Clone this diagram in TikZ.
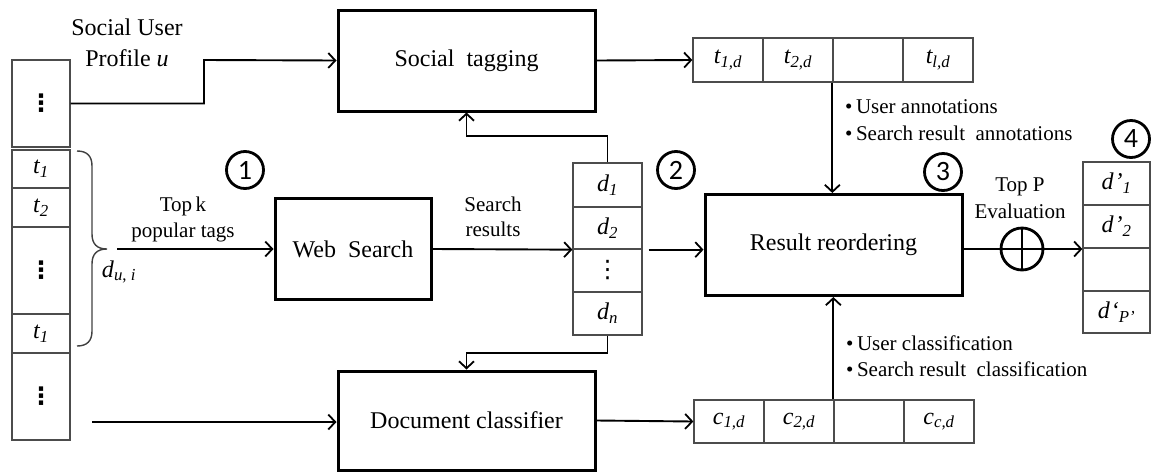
\documentclass[tikz,border=0pt]{standalone}
\usepackage{fontspec}
\setmainfont{Liberation Serif}
\newfontfamily\numfont{Carlito}
\newfontfamily\dvfont{DejaVu Sans}
\usetikzlibrary{arrows.meta,calc}
\newcommand{\vdt}{{\dvfont\fontsize{24}{28}\selectfont\bfseries ⋮}}
\newcommand{\vdtthin}{{\dvfont\fontsize{24}{28}\selectfont ⋮}}
\begin{document}
\begin{tikzpicture}[x=1pt,y=-1pt,
  box/.style={draw, line width=3pt, inner sep=0pt, font=\fontsize{24}{28}\selectfont},
  cell/.style={draw=black!70, line width=1.3pt, inner sep=0pt, font=\fontsize{24}{28}\selectfont\itshape},
  arr/.style={-{Straight Barb[length=7pt,width=15pt,line width=1.8pt]}, line width=1.9pt},
  ln/.style={line width=1.9pt},
  num/.style={circle, draw, line width=2.8pt, minimum size=37pt, inner sep=0pt, font=\numfont\fontsize{28}{30}\selectfont},
  lbl/.style={font=\fontsize{21}{24}\selectfont, align=center, inner sep=0pt},
  big/.style={font=\fontsize{24}{28}\selectfont, align=center, inner sep=0pt}
]
\useasboundingbox (0,0) rectangle (1151,472);

% profile column
\node[cell, minimum width=58pt, minimum height=87pt] (p0) at (41,103.5) {\vdt};
\node[cell, minimum width=58pt, minimum height=38pt] (p1) at (41,169) {\textit{t}\textsubscript{\textit{1}}};
\node[cell, minimum width=58pt, minimum height=39pt] (p2) at (41,207.5) {\textit{t}\textsubscript{\textit{2}}};
\node[cell, minimum width=58pt, minimum height=87pt] (p3) at (41,270.5) {\vdt};
\node[cell, minimum width=58pt, minimum height=39pt] (p4) at (41,333.5) {\textit{t}\textsubscript{\textit{1}}};
\node[cell, minimum width=58pt, minimum height=87pt] (p5) at (41,396.5) {\vdt};

\node[big] (sup1) at (127,27) {Social User};
\node[big] (sup2) at (127,58) {Profile \textit{u}};

% brace
\draw[line width=1.4pt, black!75] (77,151) .. controls (87,151) and (92,156) .. (92,166) -- (92,234)
  .. controls (92,244) and (97,249) .. (107,249) .. controls (97,249) and (92,254) .. (92,264)
  -- (92,331) .. controls (92,341) and (87,346) .. (77,346);
\node[big] (dui) at (119,272) {\textit{d}\textsubscript{\textit{u}, \textit{i}}};
\coordinate (btip) at (117,249);

% main boxes
\node[box, minimum width=257pt, minimum height=101pt] (st) at (466.5,60.5) {Social\ \ tagging};
\node[box, minimum width=156pt, minimum height=101pt] (ws) at (353,249) {Web\ \ Search};
\node[box, minimum width=257pt, minimum height=101pt] (rr) at (833.5,245) {Result reordering};
\node[box, minimum width=257pt, minimum height=99pt] (dc) at (466.5,420.5) {Document classifier};

% circled numbers
\node[num] (n1) at (245,170) {1};
\node[num] (n2) at (676,170) {2};
\node[num] (n3) at (943,172) {3};
\node[num] (n4) at (1131,139) {4};

% t-list
\node[cell, minimum width=70pt, minimum height=44pt] (tl1) at (728,60) {t\textsubscript{1,d}};
\node[cell, minimum width=70pt, minimum height=44pt] (tl2) at (798,60) {t\textsubscript{2,d}};
\node[cell, minimum width=70pt, minimum height=44pt] (tl3) at (868,60) {};
\node[cell, minimum width=70pt, minimum height=44pt] (tl4) at (938,60) {t\textsubscript{l,d}};

% c-list
\node[cell, minimum width=70pt, minimum height=43pt] (cl1) at (729,421.5) {c\textsubscript{1,d}};
\node[cell, minimum width=70pt, minimum height=43pt] (cl2) at (799,421.5) {c\textsubscript{2,d}};
\node[cell, minimum width=70pt, minimum height=43pt] (cl3) at (869,421.5) {};
\node[cell, minimum width=70pt, minimum height=43pt] (cl4) at (939,421.5) {c\textsubscript{c,d}};

% d-list
\node[cell, minimum width=69pt, minimum height=44pt] (dl1) at (607.5,185) {d\textsubscript{1}};
\node[cell, minimum width=69pt, minimum height=42pt] (dl2) at (607.5,228) {d\textsubscript{2}};
\node[cell, minimum width=69pt, minimum height=43pt] (dl3) at (607.5,270.5) {\vdtthin};
\node[cell, minimum width=69pt, minimum height=43pt] (dl4) at (607.5,313.5) {d\textsubscript{n}};

% d'-list
\node[cell, minimum width=67pt, minimum height=43pt] (dp1) at (1116.5,183.5) {d\kern1pt\char"2019\textsubscript{1}};
\node[cell, minimum width=67pt, minimum height=43pt] (dp2) at (1116.5,226.5) {d\kern1pt\char"2019\textsubscript{2}};
\node[cell, minimum width=67pt, minimum height=43pt] (dp3) at (1116.5,269.5) {};
\node[cell, minimum width=67pt, minimum height=42pt] (dp4) at (1116.5,312) {d\kern1pt\char"2018\textsubscript{P\char"2019}};

% oplus
\node[circle, draw, line width=2.8pt, minimum size=42pt, inner sep=0pt, fill=white] (op) at (1022,249) {};
\draw[line width=2.6pt] (op.north) -- (op.south);

% labels
\node[lbl] (tk1) at (183,206) {Top\,k};
\node[lbl] (tk2) at (183,232) {popular tags};
\node[lbl] (sr1) at (493,204) {Search};
\node[lbl] (sr2) at (493,229) {results};
\node[lbl] (tp1) at (1020,187) {Top P};
\node[lbl] (tp2) at (1020,211) {Evaluation};
\node[lbl, anchor=west] (ua) at (845,107) {\textbullet\,User annotations};
\node[lbl, anchor=west] (sa) at (845,133) {\textbullet\,Search result\ \ annotations};
\node[lbl, anchor=west] (uc) at (846,343) {\textbullet\,User classification};
\node[lbl, anchor=west] (sc) at (846,369) {\textbullet\,Search result\ \ classification};

% connectors
\coordinate (bend) at (204,60);
\draw[arr] (p0.east) -| (bend) -- (st.west);
\draw[arr] (st.east) -- (tl1.west);
\draw[arr] (tl3.south west) -- (tl3.south west |- rr.north);
\draw[arr] (btip) -- (ws.west);
\draw[arr] (ws.east) -- (dl2.south west);
\draw[arr] ([xshift=6pt]dl2.south east) -- (rr.west |- dl2.south east);
\draw[arr] (dl1.north) -- ++(0,-26) -| (st.south);
\draw[arr] (dl4.south) -- ++(0,17) -| (dc.north);
\coordinate (dcin) at (92,422);
\draw[arr] (dcin) -- (dc.west |- dcin);
\draw[arr] (dc.east) -- (cl1.west);
\draw[arr] (cl3.north west) -- (cl3.north west |- rr.south);
\draw[ln] (rr.east |- op) -- (op.west);
\draw[ln] (op.west) -- (op.east);
\draw[arr] (op.east) -- (dp2.south west |- op.east);
\end{tikzpicture}
\end{document}
